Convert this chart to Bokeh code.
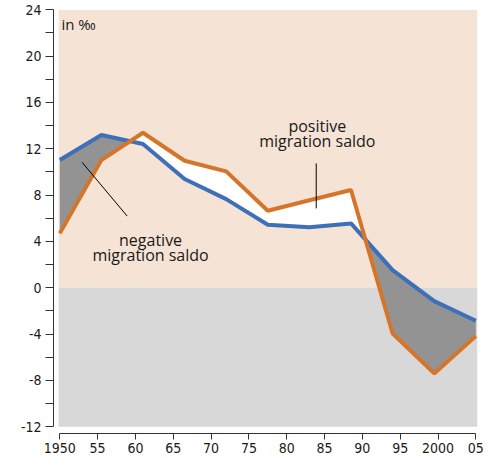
import numpy as np
from bokeh.plotting import figure
from bokeh.models import FixedTicker, Range1d
from bokeh.core.properties import value
from bokeh.embed import file_html
from bokeh.resources import INLINE

# ---- data ----
years = [1950, 1955.5, 1961, 1966.5, 1972, 1977.5, 1983, 1988.5, 1994, 1999.5, 2005]
blue_vals = [11.02, 13.18, 12.40, 9.38, 7.65, 5.43, 5.21, 5.55, 1.52, -1.16, -2.86]
orange_vals = [4.69, 11.02, 13.38, 10.96, 10.04, 6.64, 7.55, 8.43, -3.95, -7.40, -4.18]

x_ticks = [1950, 1955, 1960, 1965, 1970, 1975, 1980, 1985, 1990, 1995, 2000, 2005]
x_tick_labels = ["1950", "55", "60", "65", "70", "75", "80", "85", "90", "95", "2000", "05"]
y_ticks = [-12, -8, -4, 0, 4, 8, 12, 16, 20, 24]
y_tick_labels = ["-12", "-8", "-4", "0", "4", "8", "12", "16", "20", "24"]
y_minor_ticks = [-10, -6, -2, 2, 6, 10, 14, 18, 22]

unit_label = "in ‰"
pos_label = ["positive", "migration saldo"]
neg_label = ["negative", "migration saldo"]

# annotation anchors (data coordinates)
pos_text_x = 1984.05
pos_text_y = [13.98, 12.68]
pos_leader_x = [1983.9, 1983.9]
pos_leader_y = [10.73, 6.85]
neg_text_x = 1962.0
neg_text_y = [4.12, 2.78]
neg_leader_x = [1952.96, 1958.91]
neg_leader_y = [10.82, 6.18]

# ---- colours ----
PEACH = "#f5e3d5"
GREYBG = "#d8d8d8"
FILLGREY = "#939393"
BLUE = "#3d70b8"
ORANGE = "#d5752b"
AXIS = "#333333"
TEXT = "#1a1a1a"
TICKFONT = "DejaVu Sans Condensed"

# ---- build fill areas with crossing points ----
xs, bs, os_ = [], [], []
for i in range(len(years)):
    xs.append(years[i]); bs.append(blue_vals[i]); os_.append(orange_vals[i])
    if i < len(years) - 1:
        d0 = blue_vals[i] - orange_vals[i]
        d1 = blue_vals[i + 1] - orange_vals[i + 1]
        if d0 * d1 < 0:
            t = d0 / (d0 - d1)
            xc = years[i] + t * (years[i + 1] - years[i])
            yc = blue_vals[i] + t * (blue_vals[i + 1] - blue_vals[i])
            xs.append(xc); bs.append(yc); os_.append(yc)
xs = np.array(xs); bs = np.array(bs); os_ = np.array(os_)
lo = np.minimum(bs, os_)

p = figure(
    output_backend="svg", toolbar_location=None,
    frame_width=424, frame_height=424,
    min_border_left=53, min_border_right=8, min_border_top=9, min_border_bottom=0,
    x_range=Range1d(1949.17, 2005.22), y_range=Range1d(-12.59, 24.02),
)
p.outline_line_color = None
p.grid.visible = False
p.background_fill_color = "white"
p.border_fill_color = "white"

# background bands
bx0 = years[0] - 0.15
bx1 = years[-1] + 0.22
p.quad(left=[bx0], right=[bx1], bottom=[0], top=[y_ticks[-1]], fill_color=PEACH, line_color=None)
p.quad(left=[bx0], right=[bx1], bottom=[y_ticks[0]], top=[0], fill_color=GREYBG, line_color=None)

# fills between the lines
p.varea(x=xs, y1=lo, y2=bs, fill_color=FILLGREY)
p.varea(x=xs, y1=lo, y2=os_, fill_color="white")

# lines
p.line(years, blue_vals, line_color=BLUE, line_width=4)
p.line(years, orange_vals, line_color=ORANGE, line_width=4)

# leader lines
p.line(pos_leader_x, pos_leader_y, line_color="black", line_width=1)
p.line(neg_leader_x, neg_leader_y, line_color="black", line_width=1)

# texts
font = value("Open Sans")
for t, yy in zip(pos_label, pos_text_y):
    p.text(x=[pos_text_x], y=[yy], text=[t], text_font=font, text_font_size="16px",
           text_align="center", text_baseline="middle", text_color=TEXT)
for t, yy in zip(neg_label, neg_text_y):
    p.text(x=[neg_text_x], y=[yy], text=[t], text_font=font, text_font_size="16px",
           text_align="center", text_baseline="middle", text_color=TEXT)
p.text(x=[1950.22], y=[22.76], text=[unit_label], text_font=font, text_font_size="15px",
       text_align="left", text_baseline="middle", text_color=TEXT)

# axes
xa = p.xaxis[0]
xa.ticker = FixedTicker(ticks=x_ticks, minor_ticks=[])
xa.major_label_overrides = {k: v for k, v in zip(x_ticks, x_tick_labels)}
xa.bounds = (x_ticks[0], x_ticks[-1])
xa.axis_line_color = AXIS
xa.major_tick_line_color = AXIS
xa.major_tick_out = 6
xa.major_tick_in = 0
xa.minor_tick_line_color = None
xa.major_label_standoff = 3
xa.major_label_text_font = TICKFONT
xa.major_label_text_font_size = "14px"
xa.major_label_text_color = TEXT

ya = p.yaxis[0]
ya.ticker = FixedTicker(ticks=y_ticks, minor_ticks=y_minor_ticks)
ya.major_label_overrides = {k: v for k, v in zip(y_ticks, y_tick_labels)}
ya.bounds = (y_ticks[0], y_ticks[-1])
ya.axis_line_color = AXIS
ya.major_tick_line_color = AXIS
ya.minor_tick_line_color = AXIS
ya.major_tick_out = 8
ya.major_tick_in = 0
ya.minor_tick_out = 8
ya.minor_tick_in = 0
ya.major_label_standoff = 4
ya.major_label_text_font = TICKFONT
ya.major_label_text_font_size = "14px"
ya.major_label_text_color = TEXT

open("out.html", "w").write(file_html(p, INLINE))
